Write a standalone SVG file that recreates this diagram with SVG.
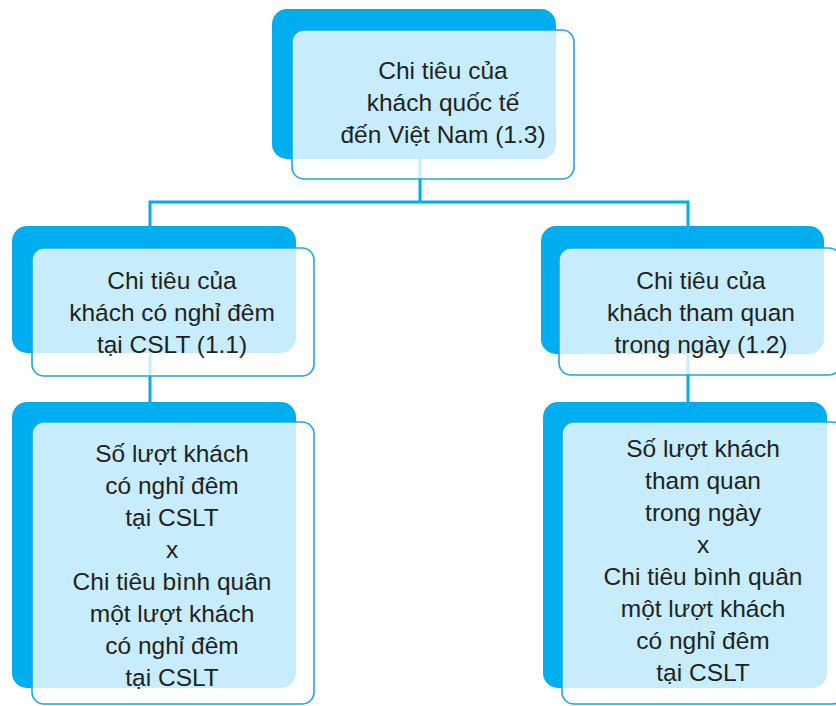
<svg xmlns="http://www.w3.org/2000/svg" width="836" height="706" viewBox="0 0 836 706">
<style>
.bk{fill:#00aeef;}
.fr{fill:#ffffff;fill-opacity:0.78;stroke:#1ea7e4;stroke-width:1.6;}
.ln{stroke:#00aeef;stroke-width:3;fill:none;}
text{font-family:"Liberation Sans",Arial,sans-serif;font-size:24.5px;fill:#231f20;text-anchor:middle;}
</style>
<rect width="836" height="706" fill="#ffffff"/>
<g id="connectors">
<path class="ln" d="M420,150 V202"/>
<path class="ln" d="M150,240 V202 H688 V240"/>
<path class="ln" d="M150,340 V404"/>
<path class="ln" d="M688,340 V404"/>
</g>
<g id="n13">
<rect class="bk" x="272" y="9" width="284" height="150" rx="15"/>
<rect class="fr" x="292" y="30" width="282" height="149" rx="12"/>
<text x="443" y="79">Chi tiêu của</text>
<text x="443" y="111">khách quốc tế</text>
<text x="443" y="143">đến Việt Nam (1.3)</text>
</g>
<g id="n11">
<rect class="bk" x="12" y="226" width="284" height="127" rx="15"/>
<rect class="fr" x="32" y="248" width="282" height="128" rx="12"/>
<text x="172" y="289">Chi tiêu của</text>
<text x="172" y="321">khách có nghỉ đêm</text>
<text x="172" y="353">tại CSLT (1.1)</text>
</g>
<g id="n12">
<rect class="bk" x="541" y="226" width="283" height="128" rx="15"/>
<rect class="fr" x="559" y="248" width="282" height="127" rx="12"/>
<text x="701" y="289">Chi tiêu của</text>
<text x="701" y="321">khách tham quan</text>
<text x="701" y="353">trong ngày (1.2)</text>
</g>
<g id="b11">
<rect class="bk" x="12" y="402" width="284" height="286" rx="15"/>
<rect class="fr" x="32" y="422" width="282" height="282" rx="12"/>
<text x="172" y="462">Số lượt khách</text>
<text x="172" y="494">có nghỉ đêm</text>
<text x="172" y="526">tại CSLT</text>
<text x="172" y="558">x</text>
<text x="172" y="590">Chi tiêu bình quân</text>
<text x="172" y="622">một lượt khách</text>
<text x="172" y="654">có nghỉ đêm</text>
<text x="172" y="686">tại CSLT</text>
</g>
<g id="b12">
<rect class="bk" x="543" y="402" width="284" height="286" rx="15"/>
<rect class="fr" x="562" y="422" width="282" height="282" rx="12"/>
<text x="703" y="457">Số lượt khách</text>
<text x="703" y="489">tham quan</text>
<text x="703" y="521">trong ngày</text>
<text x="703" y="553">x</text>
<text x="703" y="585">Chi tiêu bình quân</text>
<text x="703" y="617">một lượt khách</text>
<text x="703" y="649">có nghỉ đêm</text>
<text x="703" y="681">tại CSLT</text>
</g>
</svg>
